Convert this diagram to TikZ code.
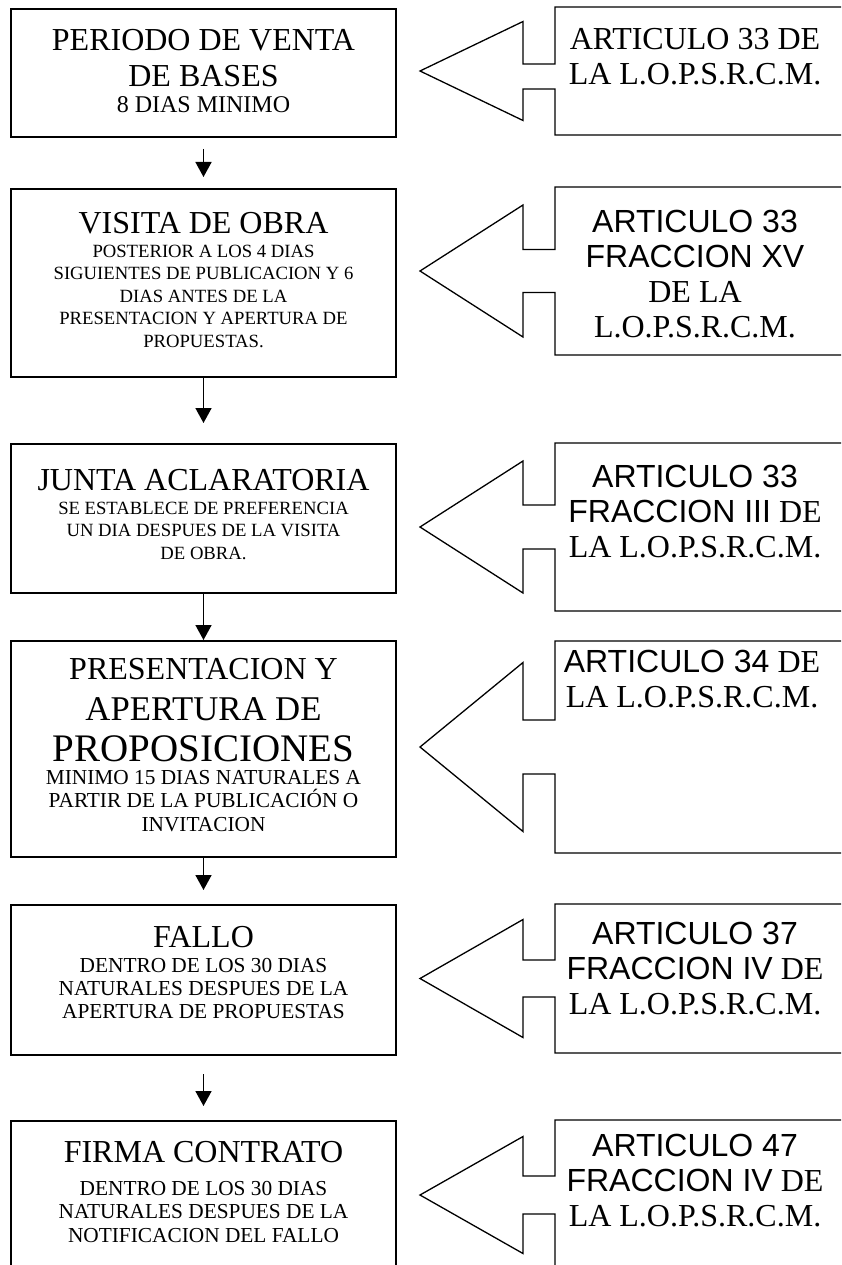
\documentclass[tikz,border=0pt]{standalone}
\usepackage{fontspec}
\setmainfont{Liberation Serif}
\newfontfamily\arialfont{Liberation Sans}
\usetikzlibrary{arrows.meta,positioning}

\newcommand{\titulo}{\fontsize{32}{36}\selectfont}
\newcommand{\nota}{\fontsize{18.67}{22.5}\selectfont}
\newcommand{\notagrande}{\fontsize{21.33}{23.5}\selectfont}
\newcommand{\arial}[1]{{\arialfont #1}}

\begin{document}
\begin{tikzpicture}[x=1pt,y=-1pt,
  fase/.style={draw,line width=2pt,minimum width=385pt,inner sep=0pt,anchor=north},
  texto/.style={anchor=north,align=center,inner sep=0pt,font=\titulo},
  articulo/.style={anchor=north,align=center,inner sep=0pt,
    font=\fontsize{32}{35}\selectfont},
  llamada/.style={line width=1.3pt,line join=miter},
  flecha/.style={line width=1.6pt,->,>={Triangle[width=16pt,length=15pt]}}]
\useasboundingbox (0,0) rectangle (841,1265);
\clip (0,0) rectangle (841,1265);

% pasos de la licitacion
\node[fase,minimum height=128pt] (periodo) at (203.5,8) {};
\node[fase,minimum height=188pt] (visita) at (203.5,188) {};
\node[fase,minimum height=149pt] (junta) at (203.5,443) {};
\node[fase,minimum height=216pt] (presentacion) at (203.5,640) {};
\node[fase,minimum height=150pt] (fallo) at (203.5,904) {};
\node[fase,minimum height=150pt] (firma) at (203.5,1120) {};

\node[texto] (periodo-texto) at (203.5,28.8)
  {PERIODO DE VENTA\\DE BASES\\[-10pt]
   \fontsize{24}{27}\selectfont 8 DIAS MINIMO};
\node[texto] (visita-texto) at (203.5,211.8)
  {VISITA DE OBRA\\[-12pt]
   \nota POSTERIOR A LOS 4 DIAS\\[-13.5pt]
   \nota SIGUIENTES DE PUBLICACION Y 6\\[-13.5pt]
   \nota DIAS ANTES DE LA\\[-13.5pt]
   \nota PRESENTACION Y APERTURA DE\\[-13.5pt]
   \nota PROPUESTAS.};
\node[texto] (junta-texto) at (203.5,468.8)
  {JUNTA ACLARATORIA\\[-12pt]
   \nota SE ESTABLECE DE PREFERENCIA\\[-13.5pt]
   \nota UN DIA DESPUES DE LA VISITA\\[-13.5pt]
   \nota DE OBRA.};
\node[texto] (presentacion-texto) at (203.5,657.8)
  {PRESENTACION Y\\[5pt]
   \fontsize{34.7}{40}\selectfont APERTURA DE\\[5pt]
   \fontsize{39}{44}\selectfont PROPOSICIONES\\[-13pt]
   \notagrande MINIMO 15 DIAS NATURALES A\\[-12.5pt]
   \notagrande PARTIR DE LA PUBLICACIÓN O\\[-12.5pt]
   \notagrande INVITACION};
\node[texto] (fallo-texto) at (203.5,925.8)
  {FALLO\\[-11pt]
   \notagrande DENTRO DE LOS 30 DIAS\\[-13pt]
   \notagrande NATURALES DESPUES DE LA\\[-13pt]
   \notagrande APERTURA DE PROPUESTAS};
\node[texto] (firma-texto) at (203.5,1140.8)
  {FIRMA CONTRATO\\[-3pt]
   \notagrande DENTRO DE LOS 30 DIAS\\[-12.5pt]
   \notagrande NATURALES DESPUES DE LA\\[-12.5pt]
   \notagrande NOTIFICACION DEL FALLO};

\draw[flecha,shorten <=11pt,shorten >=11pt] (periodo) -- (visita);
\draw[flecha,shorten >=20pt] (visita) -- (junta);
\draw[flecha] (junta) -- (presentacion);
\draw[flecha,shorten >=14pt] (presentacion) -- (fallo);
\draw[flecha,shorten <=18pt,shorten >=14pt] (fallo) -- (firma);

% llamadas con el articulo de la ley
\foreach \arriba/\abajo/\cabeza/\cuerpo/\desvio in
  {7/135/49.5/12.5/5.5, 187/355/66/21.5/0, 443/611/66/22/0,
   641/853/84.5/27/0, 904/1053/59/18.5/0, 1120/1270/58.5/19/0}{
  \pgfmathsetmacro\medio{(\arriba+\abajo)/2}
  \pgfmathsetmacro\eje{\medio+\desvio}
  \draw[llamada] (850,\arriba) -- (555,\arriba) -- (555,{\eje-\cuerpo})
    -- (523,{\eje-\cuerpo}) -- (523,{\medio-\cabeza}) -- (420,\medio)
    -- (523,{\medio+\cabeza}) -- (523,{\eje+\cuerpo}) -- (555,{\eje+\cuerpo})
    -- (555,\abajo) -- (850,\abajo);
}

\node[articulo] (art-periodo) at (695,28.5)
  {ARTICULO 33 DE\\LA L.O.P.S.R.C.M.};
\node[articulo] (art-visita) at (695,210)
  {\arial{ARTICULO 33}\\\arial{FRACCION XV}\\DE LA\\L.O.P.S.R.C.M.};
\node[articulo] (art-junta) at (695,465)
  {\arial{ARTICULO 33}\\\arial{FRACCION III} DE\\LA L.O.P.S.R.C.M.};
\node[articulo] (art-presentacion) at (692,650)
  {\arial{ARTICULO 34} DE\\LA L.O.P.S.R.C.M.};
\node[articulo] (art-fallo) at (695,922)
  {\arial{ARTICULO 37}\\\arial{FRACCION IV} DE\\LA L.O.P.S.R.C.M.};
\node[articulo] (art-firma) at (695,1134)
  {\arial{ARTICULO 47}\\\arial{FRACCION IV} DE\\LA L.O.P.S.R.C.M.};
\end{tikzpicture}
\end{document}
